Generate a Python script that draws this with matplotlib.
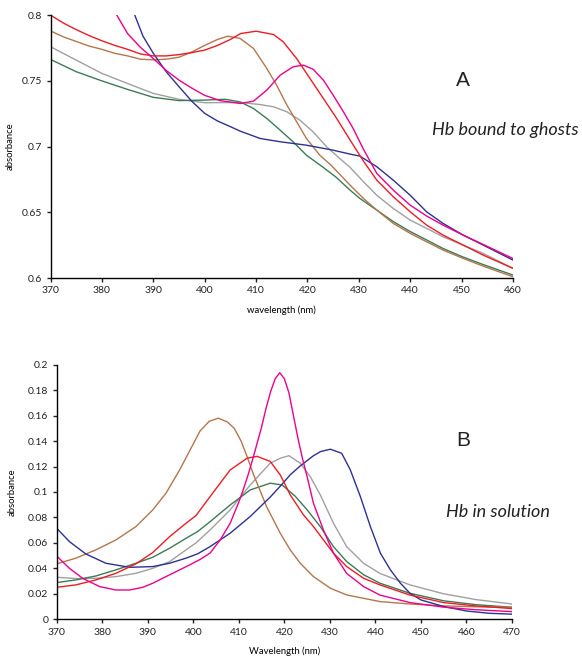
import matplotlib
matplotlib.use("Agg")
import matplotlib.pyplot as plt

# ── colours ──────────────────────────────────────────────
RED = "#ed1c24"
BROWN = "#b4764e"
GRAY = "#a0a0a0"
GREEN = "#3d7a56"
MAGENTA = "#ec008c"
BLUE = "#2e3192"

# ── panel A: Hb bound to ghosts (wavelength nm / absorbance) ──
a_red_x = [370, 372.5, 375, 377.5, 380, 382.5, 385, 387.5, 390, 392.5, 395, 397.5, 400, 402.5, 405, 407, 410, 413.4,
           415.3, 417.9, 420.5, 423.1, 425.7, 428.3, 430.9, 433.5, 436.7, 440, 443.2, 446.4, 450.3, 454.2, 460]
a_red_y = [0.800, 0.794, 0.789, 0.7845, 0.7805, 0.777, 0.774, 0.7705, 0.769, 0.769, 0.770, 0.7715, 0.7734, 0.777,
           0.7815, 0.786, 0.7878, 0.7853, 0.7797, 0.767, 0.7518, 0.7366, 0.7214, 0.705, 0.689, 0.6745, 0.6619, 0.6504,
           0.6403, 0.6327, 0.6251, 0.6175, 0.6074]

a_brown_x = [370, 372.5, 375, 377.5, 380, 382.5, 385, 387.5, 390, 392.5, 395, 397.5, 400, 402.5, 404.5, 406.9, 409.5,
             412.1, 414, 416, 417.9, 419.8, 422.4, 424.7, 428.3, 430.9, 433.5, 436.7, 440, 443.2, 446.4, 450.3, 454.2,
             460]
a_brown_y = [0.788, 0.7835, 0.780, 0.7765, 0.774, 0.771, 0.769, 0.7665, 0.766, 0.7665, 0.768, 0.772, 0.777, 0.7815,
             0.784, 0.7823, 0.7747, 0.7594, 0.7468, 0.7316, 0.7189, 0.7062, 0.6935, 0.6855, 0.6707, 0.6606, 0.6517,
             0.6416, 0.634, 0.6276, 0.6213, 0.615, 0.6091, 0.601]

a_green_x = [370, 375, 380, 385, 390, 395, 400, 404, 406.9, 409.5, 412.1, 414.7, 417.2, 419.8, 422.8, 425.5, 428.3,
             430.2, 433.5, 436.7, 440, 443.2, 446.4, 450.3, 454.2, 460]
a_green_y = [0.7663, 0.757, 0.750, 0.7435, 0.7375, 0.735, 0.7354, 0.736, 0.734, 0.729, 0.7214, 0.7125, 0.7037, 0.6935,
             0.685, 0.677, 0.6669, 0.6606, 0.6517, 0.643, 0.6354, 0.629, 0.6225, 0.616, 0.6103, 0.6023]

a_gray_x = [370, 375, 380, 385, 390, 395, 400, 406.9, 410.8, 413.4, 416, 418.5, 421.1, 423.7, 426.3, 428.3, 430.9,
            433.5, 436.7, 440, 443.2, 446.4, 450.3, 454.2, 460]
a_gray_y = [0.776, 0.7658, 0.7557, 0.748, 0.7405, 0.736, 0.7334, 0.7336, 0.732, 0.7303, 0.7265, 0.7202, 0.7113, 0.700,
            0.691, 0.6842, 0.6733, 0.663, 0.653, 0.6441, 0.6378, 0.6314, 0.6251, 0.6188, 0.6074]

a_mag_x = [382.9, 385, 387.5, 390, 392.5, 395, 397.5, 400, 403, 406.9, 409.5, 412.1, 414.7, 417.2, 419.2, 421.1, 423.1,
           425, 427, 428.9, 430.9, 433.5, 436.7, 440, 443.2, 446.4, 450.3, 454.2, 460]
a_mag_y = [0.800, 0.786, 0.7755, 0.767, 0.758, 0.7506, 0.7445, 0.739, 0.735, 0.7328, 0.7346, 0.743, 0.7544, 0.7607,
           0.762, 0.7589, 0.7506, 0.7392, 0.7265, 0.7138, 0.698, 0.6796, 0.6669, 0.6555, 0.6472, 0.6403, 0.6327,
           0.6256, 0.6149]

a_blue_x = [386.4, 388, 390, 392.5, 395, 397.5, 400, 402.5, 405, 406.9, 410.8, 414.7, 419.8, 425, 428.3, 430.2, 433.5,
            436.7, 440, 443.2, 446.4, 450.3, 454.2, 460]
a_blue_y = [0.800, 0.784, 0.771, 0.757, 0.7456, 0.7345, 0.7253, 0.7195, 0.7152, 0.7118, 0.7062, 0.7037, 0.7011,
            0.6973, 0.6943, 0.6928, 0.6847, 0.6745, 0.663, 0.6504, 0.6416, 0.6327, 0.6251, 0.6137]

# ── panel B: Hb in solution ─────────────────────────────
b_brown_x = [370, 374.2, 378.6, 383, 387.4, 391.1, 394, 397, 399.3, 401.5, 403.5, 405.5, 407.5, 409, 410.5, 411.8,
             413.2, 416.1, 419.1, 421.3, 423.5, 426.4, 430.1, 433.7, 441, 447.6, 455, 462, 470]
b_brown_y = [0.0435, 0.048, 0.0545, 0.0623, 0.0728, 0.0859, 0.099, 0.1173, 0.133, 0.148, 0.1555, 0.158, 0.155, 0.150,
             0.140, 0.128, 0.114, 0.0885, 0.0676, 0.0545, 0.044, 0.0335, 0.0244, 0.0191, 0.0139, 0.012, 0.0105,
             0.0098, 0.0094]

b_red_x = [370, 374.2, 378.6, 383, 387.4, 391.1, 394.8, 398.4, 400.6, 403.7, 408.1, 411.8, 414, 416.9, 419.1, 421.3,
           424.2, 426.4, 428.6, 430.8, 433.7, 437.4, 441, 447.6, 455, 462, 470]
b_red_y = [0.0251, 0.027, 0.0309, 0.0361, 0.0435, 0.0524, 0.0649, 0.0754, 0.0815, 0.0964, 0.1173, 0.1265, 0.128,
           0.124, 0.1134, 0.0977, 0.082, 0.0728, 0.0623, 0.0519, 0.0414, 0.0322, 0.027, 0.019, 0.0131, 0.0105,
           0.0084]

b_green_x = [370, 374.2, 378.6, 383, 387.4, 391.1, 394.8, 398.4, 401, 403.7, 408.1, 412.5, 416.9, 419.5, 422.3, 425,
             427.9, 430.8, 433.7, 437.4, 441, 447.6, 455, 462, 470]
b_green_y = [0.0288, 0.0309, 0.034, 0.0388, 0.044, 0.0487, 0.0558, 0.0636, 0.069, 0.0767, 0.0898, 0.1016, 0.1069,
             0.1055, 0.097, 0.086, 0.0728, 0.057, 0.0453, 0.035, 0.0283, 0.0204, 0.0145, 0.0115, 0.0094]

b_gray_x = [370, 374.2, 378.6, 383, 387.4, 391.1, 394.8, 398.4, 400.6, 403.7, 408.1, 412.5, 416.9, 419.1, 421, 423.5,
            425.7, 427.9, 430.8, 433.7, 437.4, 441, 447.6, 455, 462, 470]
b_gray_y = [0.033, 0.032, 0.0322, 0.0335, 0.0361, 0.040, 0.0453, 0.0545, 0.060, 0.0702, 0.0859, 0.1055, 0.1226,
            0.1265, 0.1285, 0.1226, 0.112, 0.0977, 0.0754, 0.057, 0.044, 0.036, 0.027, 0.020, 0.0155, 0.012]

b_blue_x = [370, 372.8, 376.4, 380.8, 386, 391.1, 394.8, 398.4, 401, 403.7, 408.1, 412.5, 416.9, 419.1, 421.3, 423.5,
            426.4, 428, 430.1, 432.6, 434.5, 436.7, 438.9, 441.1, 443.3, 445.5, 447.6, 450, 455, 460, 465, 470]
b_blue_y = [0.0715, 0.061, 0.0513, 0.044, 0.0408, 0.0414, 0.044, 0.048, 0.0515, 0.0571, 0.0676, 0.0807, 0.096,
            0.1045, 0.1135, 0.1205, 0.1285, 0.1318, 0.1336, 0.1304, 0.1173, 0.0964, 0.0728, 0.0519, 0.0388, 0.0283,
            0.0204, 0.0152, 0.010, 0.0065, 0.0047, 0.004]

b_mag_x = [370, 372.8, 375.7, 379.4, 383, 386, 388.9, 391.1, 394, 397, 399.2, 401.5, 403.7, 405.9, 408.1, 410, 411,
           412, 413, 414, 415, 416, 417, 418, 419, 420, 421, 422, 423, 424, 425, 426.4, 428.6, 430.8, 433.7, 437.4,
           441, 447.6, 455, 462, 470]
b_mag_y = [0.0497, 0.040, 0.0322, 0.0257, 0.023, 0.023, 0.0251, 0.0283, 0.0335, 0.0388, 0.0427, 0.047, 0.052, 0.0623,
           0.0754, 0.092, 0.102, 0.113, 0.125, 0.138, 0.151, 0.166, 0.179, 0.189, 0.1937, 0.189, 0.178, 0.160, 0.142,
           0.126, 0.112, 0.0911, 0.070, 0.0519, 0.036, 0.0257, 0.019, 0.0131, 0.0095, 0.0075, 0.006]

plt.rcParams["font.family"] = ["Lato", "DejaVu Sans"]

fig = plt.figure(figsize=(5.82, 6.59), dpi=100)
axA = fig.add_axes([0.0868, 0.578, 0.7946, 0.399])
axB = fig.add_axes([0.0974, 0.0603, 0.7823, 0.3863])

lw = 1.0
series_a = [(a_gray_x, a_gray_y, GRAY), (a_green_x, a_green_y, GREEN), (a_brown_x, a_brown_y, BROWN),
            (a_blue_x, a_blue_y, BLUE), (a_red_x, a_red_y, RED), (a_mag_x, a_mag_y, MAGENTA)]
for x, y, c in series_a:
    axA.plot(x, y, color=c, lw=lw)

series_b = [(b_gray_x, b_gray_y, GRAY), (b_green_x, b_green_y, GREEN), (b_brown_x, b_brown_y, BROWN),
            (b_blue_x, b_blue_y, BLUE), (b_red_x, b_red_y, RED), (b_mag_x, b_mag_y, MAGENTA)]
for x, y, c in series_b:
    axB.plot(x, y, color=c, lw=lw)

axA.set_xlim(370, 460)
axA.set_ylim(0.6, 0.8)
axA.set_xticks(range(370, 461, 10))
axA.set_yticks([0.6, 0.65, 0.7, 0.75, 0.8])
axA.set_yticklabels(["0.6", "0.65", "0.7", "0.75", "0.8"])
axA.set_xlabel("wavelength (nm)", fontsize=6.8, labelpad=7)
axA.set_ylabel("absorbance", fontsize=6.8, labelpad=5)

axB.set_xlim(370, 470)
axB.set_ylim(0, 0.2)
axB.set_xticks(range(370, 471, 10))
axB.set_yticks([0, 0.02, 0.04, 0.06, 0.08, 0.1, 0.12, 0.14, 0.16, 0.18, 0.2])
axB.set_yticklabels(["0", "0.02", "0.04", "0.06", "0.08", "0.1", "0.12", "0.14", "0.16", "0.18", "0.2"])
axB.set_xlabel("Wavelength (nm)", fontsize=6.8, labelpad=7)
axB.set_ylabel("absorbance", fontsize=6.8, labelpad=8)

for ax in (axA, axB):
    ax.spines[["top", "right"]].set_visible(False)
    ax.spines[["left", "bottom"]].set_linewidth(1.0)
    ax.tick_params(direction="out", length=3, width=1.0, labelsize=7.5, colors="#222222", pad=3)

fig.text(463 / 582, 1 - 80 / 659, "A", fontsize=15, ha="center", va="center", color="#222222",
         family=["Liberation Sans", "DejaVu Sans"])
fig.text(505 / 582, 1 - 130 / 659, "Hb bound to ghosts", fontsize=13, style="italic",
         ha="center", va="center", color="#222222")
fig.text(463 / 582, 1 - 440 / 659, "B", fontsize=15, ha="center", va="center", color="#222222",
         family=["Liberation Sans", "DejaVu Sans"])
fig.text(498 / 582, 1 - 512 / 659, "Hb in solution", fontsize=13, style="italic",
         ha="center", va="center", color="#222222")

fig.savefig("out.png", dpi=100)
